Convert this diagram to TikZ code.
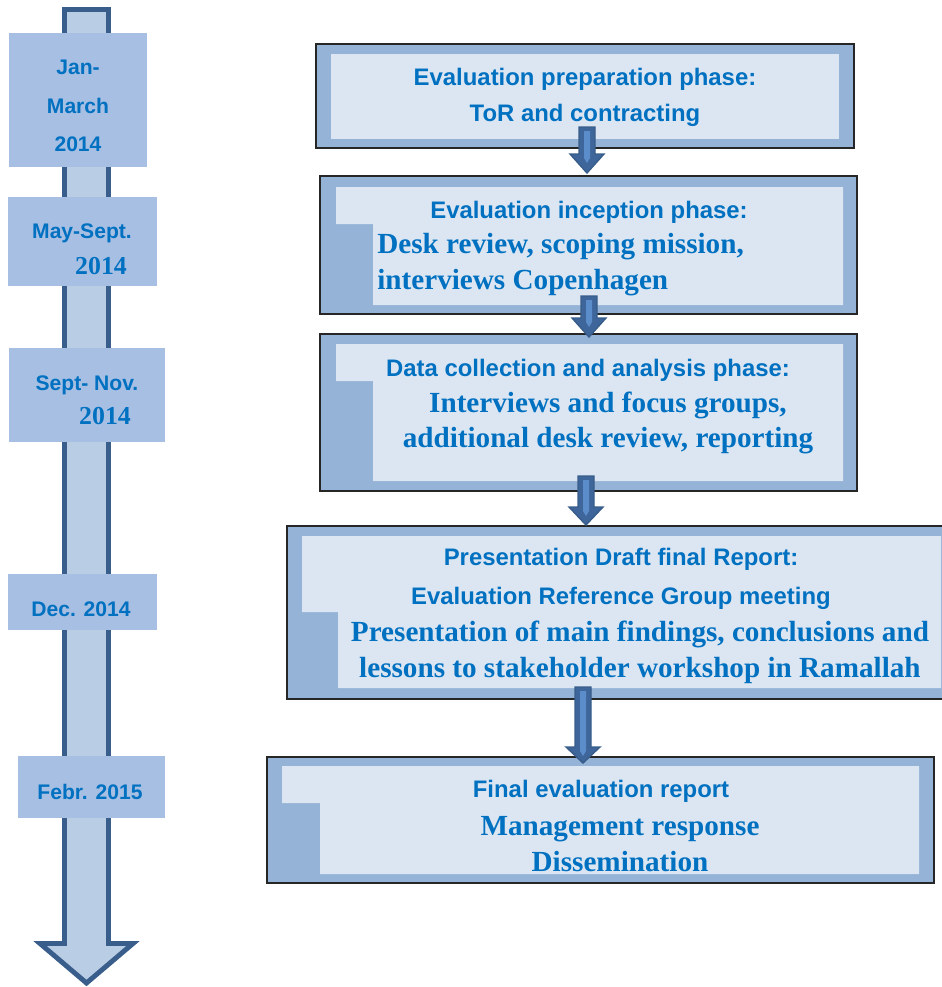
\documentclass[tikz,border=0pt]{standalone}
\usepackage{fontspec}
\setmainfont{Liberation Serif}
\setsansfont{Liberation Sans}
\definecolor{txtblue}{HTML}{0070C0}
\definecolor{dateblue}{HTML}{A7BFE3}
\definecolor{timefill}{HTML}{B9CDE5}
\definecolor{timeedge}{HTML}{3A5E8C}
\definecolor{frameblue}{HTML}{95B3D7}
\definecolor{innerblue}{HTML}{DCE6F2}
\definecolor{arrowdark}{HTML}{3F669B}
\definecolor{arrowlight}{HTML}{5B8DCB}
\definecolor{arrowedge}{HTML}{385D8A}
\newcommand{\phasearrow}[4]{%
	\draw[flowarrow] (#1-8,#2) -- (#1+8,#2) -- (#1+8,#4) -- (#1+17,#4) -- (#1,#3) -- (#1-17,#4) -- (#1-8,#4) -- cycle;
	\fill[arrowlight] (#1-3,#2+4) -- (#1+3,#2+4) -- (#1+3,#4+4) -- (#1,#4+9) -- (#1-3,#4+4) -- cycle;}
\begin{document}
\begin{tikzpicture}[x=0.02cm,y=-0.02cm,
		phaseframe/.style={fill=frameblue,draw=black!85,line width=0.9pt},
		phaseinner/.style={fill=innerblue},
		flowarrow/.style={draw=arrowedge,line width=0.8pt,fill=arrowdark},
		heading/.style={text=txtblue,font=\sffamily\bfseries\fontsize{13.6}{20.4}\selectfont,align=center,inner sep=0pt},
		body/.style={text=txtblue,font=\bfseries\fontsize{16.6}{20.4}\selectfont,align=center,inner sep=0pt},
		datetext/.style={text=txtblue,font=\sffamily\bfseries\fontsize{12}{21}\selectfont,align=center,inner sep=0pt},
		dateyear/.style={text=txtblue,font=\bfseries\fontsize{14.7}{18}\selectfont,inner sep=0pt}]
		
		\useasboundingbox (0,0) rectangle (942,987);
		
		% time line
		\draw[line width=2.8pt,draw=timeedge,fill=timefill,miter limit=10]
		(64.5,9.5) -- (108.5,9.5) -- (108.5,943.5) -- (133,943.5) -- (86.5,983) -- (40,943.5) -- (64.5,943.5) -- cycle;
		\fill[dateblue] (9,33) rectangle (147,167);
		\fill[dateblue] (8,197) rectangle (157,286);
		\fill[dateblue] (9,348) rectangle (165,442);
		\fill[dateblue] (8,574) rectangle (157,630);
		\fill[dateblue] (18,756) rectangle (165,818);
		
		\node[datetext] (d1) at (78,106) {Jan-\\[1pt]March\\[1pt]2014};
		\node[datetext] (d2) at (82,233) {May-Sept.};
		\node[dateyear] (y2) at (101,266) {2014};
		\node[datetext] (d3) at (87,385) {Sept- Nov.};
		\node[dateyear] (y3) at (105,416) {2014};
		\node[datetext] (d4) at (81,609) {Dec. 2014};
		\node[datetext] (d5) at (90,792) {Febr. 2015};
		
		% phases
		\draw[phaseframe] (316,44) rectangle (854,148);
		\fill[phaseinner] (331,54) rectangle (839,139);
		\draw[phaseframe] (320,176) rectangle (857,314);
		\fill[phaseinner] (336,187) -- (843,187) -- (843,305) -- (373,305) -- (373,224) -- (336,224) -- cycle;
		\draw[phaseframe] (320,334) rectangle (857,491);
		\fill[phaseinner] (336,344) -- (843,344) -- (843,481) -- (373,481) -- (373,381) -- (336,381) -- cycle;
		\draw[phaseframe] (287,526) rectangle (952,699);
		\fill[phaseinner] (302,536) -- (941,536) -- (941,688) -- (338,688) -- (338,612) -- (302,612) -- cycle;
		\draw[phaseframe] (267,757) rectangle (934,883);
		\fill[phaseinner] (282,766) -- (919,766) -- (919,874) -- (320,874) -- (320,803) -- (282,803) -- cycle;
		
		\node[heading] (h1) at (585,97) {Evaluation preparation phase:\\ToR and contracting};
		\node[heading] (h2) at (589,212) {Evaluation inception phase:};
		\node[body,align=left,anchor=west] (b2) at (377,265) {Desk review, scoping mission,\\interviews Copenhagen};
		\node[heading] (h3) at (588,370) {Data collection and analysis phase:};
		\node[body] (b3) at (608,423) {Interviews and focus groups,\\additional desk review, reporting};
		\node[heading] (h4) at (621,579) {Presentation Draft final Report:\\[2pt]Evaluation Reference Group meeting};
		\node[body] (b4) at (640,652) {Presentation of main findings, conclusions and\\lessons to stakeholder workshop in Ramallah};
		\node[heading] (h5) at (601,791) {Final evaluation report};
		\node[body] (b5) at (620,844) {Management response\\Dissemination};
		
		\phasearrow{587}{127}{173}{154}
		\phasearrow{589}{296}{337}{318}
		\phasearrow{586}{476}{525}{507}
		\phasearrow{583}{687}{763}{747}
		
\end{tikzpicture}
\end{document}
